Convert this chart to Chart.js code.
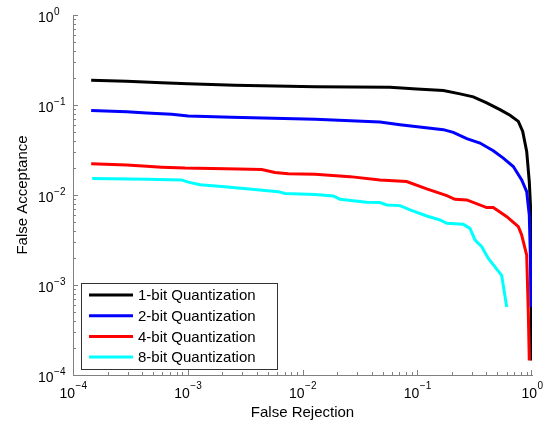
<!DOCTYPE html>
<html>
<head>
<meta charset="utf-8">
<script src="https://cdn.jsdelivr.net/npm/chart.js@4/dist/chart.umd.min.js"></script>
<style>
  html, body { margin: 0; padding: 0; background: #fff; }
  #wrap { width: 556px; height: 426px; }
</style>
</head>
<body>
<div id="wrap"><canvas id="det" width="556" height="426"></canvas></div>
<script>
// series labels and colours
var labels = ['1-bit Quantization', '2-bit Quantization', '4-bit Quantization', '8-bit Quantization']
var colors = ['#000000', '#0000ff', '#ff0000', '#00ffff']

// false rejection (x) / false acceptance (y)
var fr1 = [1.44e-4, 2.94e-4, 5.93e-4, 1.0e-3, 2.58e-3, 0.0129, 0.0579, 0.0989, 0.169, 0.236, 0.308, 0.403, 0.526, 0.643, 0.760, 0.830, 0.899, 0.947, 0.974, 0.986, 0.994]
var fa1 = [0.1886, 0.1837, 0.1764, 0.172, 0.166, 0.159, 0.1575, 0.151, 0.1447, 0.133, 0.123, 0.1055, 0.0889, 0.0768, 0.0658, 0.0509, 0.0305, 0.0141, 6.8e-3, 1.13e-3, 1.45e-4]

var fr2 = [1.44e-4, 2.94e-4, 4.38e-4, 7.24e-4, 1.01e-3, 2.41e-3, 0.0129, 0.0473, 0.0707, 0.169, 0.206, 0.270, 0.352, 0.460, 0.562, 0.687, 0.813, 0.899, 0.947, 0.97, 0.98]
var fa2 = [0.0866, 0.0844, 0.0817, 0.0787, 0.0756, 0.0729, 0.0693, 0.0648, 0.0605, 0.0532, 0.0497, 0.0422, 0.0378, 0.0310, 0.0257, 0.0207, 0.0147, 0.0109, 6.0e-3, 1.89e-3, 5.66e-4]

var fr4 = [1.44e-4, 2.94e-4, 4.38e-4, 5.93e-4, 9.46e-4, 2.76e-3, 4.41e-3, 5.75e-3, 7.52e-3, 0.0129, 0.0259, 0.0473, 0.0809, 0.121, 0.181, 0.213, 0.270, 0.403, 0.460, 0.603, 0.760, 0.813, 0.899, 0.929, 0.947]
var fa4 = [0.0222, 0.0215, 0.0209, 0.0204, 0.0199, 0.0195, 0.0192, 0.0178, 0.0172, 0.0170, 0.0160, 0.0147, 0.0141, 0.0117, 9.84e-3, 8.97e-3, 8.81e-3, 7.24e-3, 7.24e-3, 5.75e-3, 4.44e-3, 3.59e-3, 2.15e-3, 4.85e-4, 1.45e-4]

var fr8 = [1.47e-4, 4.38e-4, 8.85e-4, 1.01e-3, 1.28e-3, 1.98e-3, 3.61e-3, 6.15e-3, 7.04e-3, 0.0129, 0.0185, 0.0212, 0.0362, 0.0473, 0.0542, 0.0707, 0.0865, 0.121, 0.158, 0.181, 0.252, 0.288, 0.319, 0.365, 0.416, 0.544, 0.602]
var fa8 = [0.01524, 0.0150, 0.0147, 0.0139, 0.0130, 0.0124, 0.0116, 0.0109, 0.0104, 0.0101, 9.77e-3, 8.98e-3, 8.31e-3, 8.23e-3, 7.76e-3, 7.62e-3, 6.82e-3, 5.85e-3, 5.28e-3, 4.85e-3, 4.72e-3, 4.26e-3, 3.16e-3, 2.66e-3, 1.97e-3, 1.28e-3, 5.70e-4]

// decades shown on both axes
var exponents = [-4, -3, -2, -1, 0]

var xs = [fr1, fr2, fr4, fr8]
var ys = [fa1, fa2, fa4, fa8]

function pts(x, y) { return x.map((v, i) => ({x: v, y: y[i]})) }

var FONT = '"Liberation Sans", Arial, Helvetica, sans-serif'
var AXIS = '#808080'

// inward ticks, power-of-ten labels, titles and boxed legend (MATLAB look)
var matlabDecor = {
  id: 'matlabDecor',
  afterDraw(chart) {
    let ctx = chart.ctx, xs_ = chart.scales.x, ys_ = chart.scales.y, a = chart.chartArea
    ctx.save()
    ctx.strokeStyle = AXIS
    ctx.lineWidth = 1
    ctx.beginPath()
    for (let e = exponents[0]; e < exponents[exponents.length - 1]; e++) {
      for (let m = 1; m < 10; m++) {
        let v = m * Math.pow(10, e)
        let len = m == 1 ? 5 : 3
        let px = Math.round(xs_.getPixelForValue(v)) + 0.5
        ctx.moveTo(px, a.bottom); ctx.lineTo(px, a.bottom - len)
        let py = Math.round(ys_.getPixelForValue(v)) + 0.5
        ctx.moveTo(a.left, py); ctx.lineTo(a.left + len, py)
      }
    }
    let px = Math.round(xs_.getPixelForValue(1)) - 0.5
    ctx.moveTo(px, a.bottom); ctx.lineTo(px, a.bottom - 5)
    let py = Math.round(ys_.getPixelForValue(1)) + 0.5
    ctx.moveTo(a.left, py); ctx.lineTo(a.left + 5, py)
    ctx.stroke()

    // tick labels 10^e
    ctx.fillStyle = '#000'
    ctx.textBaseline = 'alphabetic'
    exponents.forEach(e => {
      let sup = e < 0 ? '\u2212' + (-e) : '' + e
      ctx.font = '14px ' + FONT
      let wb = ctx.measureText('10').width
      ctx.font = '10px ' + FONT
      let ws = ctx.measureText(sup).width
      // x axis
      let cx = xs_.getPixelForValue(Math.pow(10, e))
      let left = cx - (wb + ws) / 2
      ctx.textAlign = 'left'
      ctx.font = '14px ' + FONT
      ctx.fillText('10', left, a.bottom + 23)
      ctx.font = '10px ' + FONT
      ctx.fillText(sup, left + wb + 0.5, a.bottom + 14)
      // y axis
      let cy = ys_.getPixelForValue(Math.pow(10, e))
      ctx.font = '14px ' + FONT
      ctx.fillText('10', 38, cy + 6.5)
      ctx.font = '10px ' + FONT
      ctx.fillText(sup, 38 + wb + 0.5, cy - 0.5)
    })

    // axis titles
    ctx.font = '15px ' + FONT
    ctx.textAlign = 'center'
    ctx.textBaseline = 'middle'
    ctx.fillText('False Rejection', (a.left + a.right) / 2, 413)
    ctx.save()
    ctx.translate(23, (a.top + a.bottom) / 2)
    ctx.rotate(-Math.PI / 2)
    ctx.fillText('False Acceptance', 0, 0)
    ctx.restore()

    // legend
    let lx = 81, ly = 283, lw = 196, lh = 86
    ctx.fillStyle = '#fff'
    ctx.fillRect(lx, ly, lw, lh)
    ctx.strokeStyle = '#333'
    ctx.lineWidth = 1
    ctx.strokeRect(lx + 0.5, ly + 0.5, lw, lh)
    chart.data.datasets.forEach((ds, i) => {
      let ry = 295 + i * 20.7
      ctx.strokeStyle = ds.borderColor
      ctx.lineWidth = 3
      ctx.beginPath()
      ctx.moveTo(89, ry); ctx.lineTo(133, ry)
      ctx.stroke()
      ctx.fillStyle = '#000'
      ctx.textAlign = 'left'
      ctx.fillText(ds.label, 138, ry + 1)
    })
    ctx.restore()
  }
}

var datasets = labels.map((l, i) => ({
  label: l,
  data: pts(xs[i], ys[i]),
  borderColor: colors[i],
  backgroundColor: colors[i],
  borderWidth: 3,
  pointRadius: 0,
  tension: 0,
  fill: false,
  order: labels.length - i
}))

new Chart(document.getElementById('det'), {
  type: 'line',
  data: { datasets: datasets },
  plugins: [matlabDecor],
  options: {
    responsive: false,
    animation: false,
    events: [],
    layout: { padding: { top: 15, right: 24, left: 0, bottom: 0 } },
    plugins: { legend: { display: false }, tooltip: { enabled: false } },
    scales: {
      x: {
        type: 'logarithmic', min: 1e-4, max: 1,
        ticks: { display: false },
        grid: { display: false },
        border: { display: true, color: AXIS, width: 1 },
        afterFit: s => { s.height = 51 }
      },
      y: {
        type: 'logarithmic', min: 1e-4, max: 1,
        ticks: { display: false },
        grid: { display: false },
        border: { display: true, color: AXIS, width: 1 },
        afterFit: s => { s.width = 73 }
      }
    }
  }
})
</script>
</body>
</html>
